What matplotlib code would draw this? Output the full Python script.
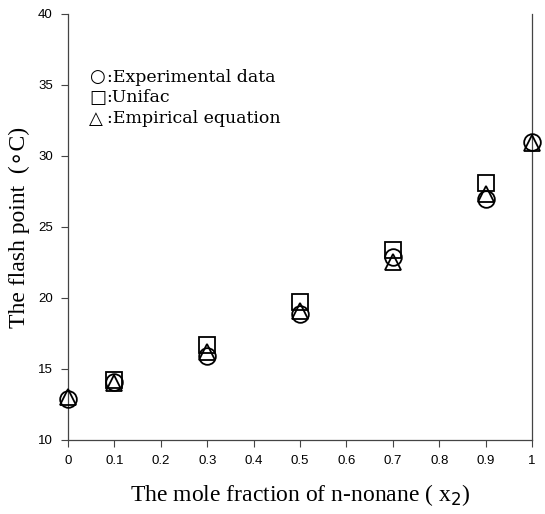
import matplotlib
matplotlib.use("Agg")
import matplotlib.pyplot as plt

x_exp = [0.0, 0.1, 0.3, 0.5, 0.7, 0.9, 1.0]
y_exp = [12.9, 14.1, 15.9, 18.9, 22.9, 27.0, 31.0]

x_uni = [0.1, 0.3, 0.5, 0.7, 0.9]
y_uni = [14.2, 16.7, 19.7, 23.4, 28.1]

x_emp = [0.0, 0.1, 0.3, 0.5, 0.7, 0.9, 1.0]
y_emp = [13.0, 14.0, 16.2, 19.1, 22.5, 27.3, 30.9]

legend_syms = ["\u25cb", "\u25a1", "\u25b3"]
legend_texts = [":Experimental data", ":Unifac", ":Empirical equation"]

fig = plt.figure(figsize=(5.45, 5.14), dpi=100)
ax = fig.add_axes([0.1248, 0.144, 0.8514, 0.8288])

mk = dict(linestyle="none", markerfacecolor="none", markeredgecolor="black",
          markeredgewidth=1.3, markersize=12, clip_on=False, zorder=3)
ax.plot(x_uni, y_uni, marker="s", **mk)
ax.plot(x_exp, y_exp, marker="o", **mk)
ax.plot(x_emp, y_emp, marker="^", **mk)

ax.set_xlim(0, 1)
ax.set_ylim(10, 40)
ax.set_xticks([0, 0.1, 0.2, 0.3, 0.4, 0.5, 0.6, 0.7, 0.8, 0.9, 1])
ax.set_xticklabels(["0", "0.1", "0.2", "0.3", "0.4", "0.5", "0.6", "0.7", "0.8", "0.9", "1"])
ax.set_yticks([10, 15, 20, 25, 30, 35, 40])
for lab in ax.get_xticklabels() + ax.get_yticklabels():
    lab.set_family("Liberation Sans")
    lab.set_fontsize(9.5)
ax.tick_params(direction="out", length=5, width=0.8, color="#444444", pad=6)
ax.tick_params(axis="y", right=False)

ax.spines["top"].set_visible(False)
for s in ["left", "bottom", "right"]:
    ax.spines[s].set_color("#444444")
    ax.spines[s].set_linewidth(0.9)

ax.set_xlabel("The mole fraction of n-nonane ( x$_2$)", family="Liberation Serif",
              fontsize=17, labelpad=11)
ax.set_ylabel("The flash point  (\u2218C)", family=["Liberation Serif", "DejaVu Sans"],
              fontsize=17, labelpad=6)

for i, (sym, t) in enumerate(zip(legend_syms, legend_texts)):
    yy = 0.852 - i * 0.049
    ax.text(0.046, yy, sym, transform=ax.transAxes,
            family="DejaVu Sans", fontsize=13, va="center", ha="left")
    ax.text(0.083, yy, t, transform=ax.transAxes,
            family="DejaVu Serif", fontsize=12.5, va="center", ha="left",
            fontweight="light")

fig.savefig("out.png", dpi=100)
